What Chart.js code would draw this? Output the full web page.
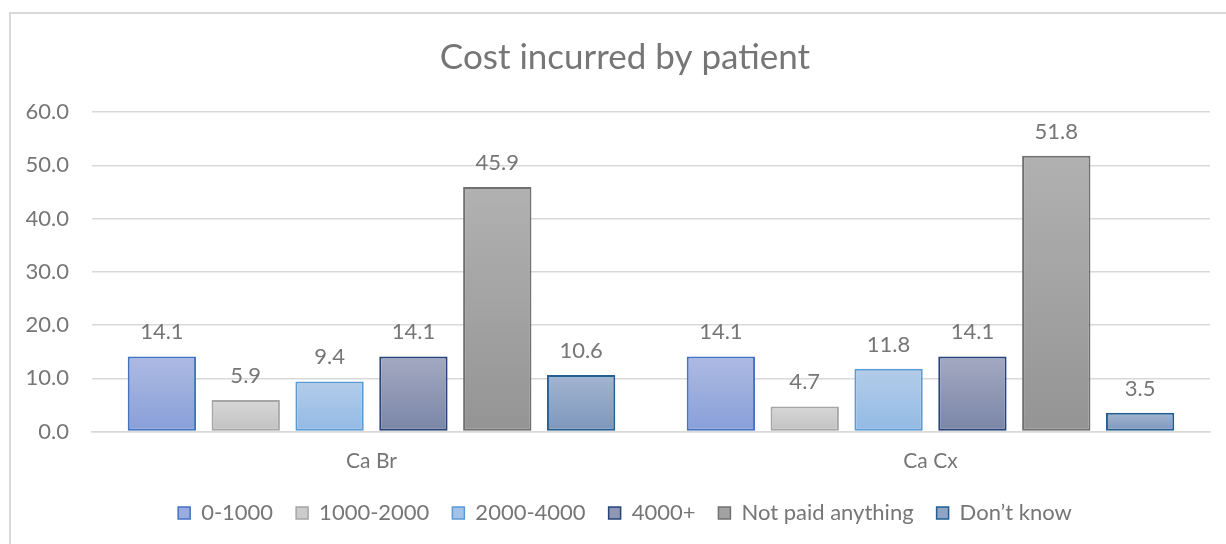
<!DOCTYPE html>
<html>
<head>
<meta charset="utf-8">
<title>Cost incurred by patient</title>
<script src="https://cdn.jsdelivr.net/npm/chart.js@4/dist/chart.umd.min.js"></script>
<style>
    html, body { margin: 0; padding: 0; background: #ffffff; overflow: hidden; }
    #marco { position: absolute; left: 9px; top: 12px; width: 1400px; height: 700px; border: 2px solid #d9d9d9; pointer-events: none; }
    #contenedor { position: absolute; left: 0; top: 0; width: 1226px; height: 544px; }
</style>
</head>
<body>
<div id="contenedor"><canvas id="costChart" width="1226" height="544"></canvas></div>
<div id="marco"></div>

<script>
// datos
var categorias = ['Ca Br', 'Ca Cx'];
var rangos = ['0-1000', '1000-2000', '2000-4000', '4000+', 'Not paid anything', 'Don\u2019t know'];

var serie0a1000 = [14.1, 14.1];
var serie1000a2000 = [5.9, 4.7];
var serie2000a4000 = [9.4, 11.8];
var serie4000mas = [14.1, 14.1];
var serieNoPago = [45.9, 51.8];
var serieNoSabe = [10.6, 3.5];

var ticksY = [0, 10, 20, 30, 40, 50, 60];

var colorArriba = ['#adbae2', '#d7d7d7', '#b3cce9', '#a4a9c1', '#b1b1b1', '#a3b5d1'];
var colorAbajo = ['#889fd9', '#c1c1c1', '#92bae5', '#7a85a7', '#949494', '#7c96bb'];
var colorMedio = ['#9aacdd', '#cbcbcb', '#a2c3e7', '#8f97b4', '#a2a2a2', '#8fa5c6'];
var colorBorde = ['#4472c4', '#a5a5a5', '#5b9bd5', '#264478', '#707070', '#255e91'];

var textoGris = '#767676';
var fuente = 'Lato, "Open Sans", sans-serif';

function degradado(i)
{
    return function(ctx)
    {
        var chart = ctx.chart;
        if (!chart.chartArea || ctx.raw === undefined)
        {
            return colorMedio[i];
        }
        var escala = chart.scales.y;
        var arriba = escala.getPixelForValue(ctx.raw);
        var abajo = escala.getPixelForValue(0);
        if (abajo - arriba < 1)
        {
            return colorMedio[i];
        }
        var g = chart.ctx.createLinearGradient(0, arriba, 0, abajo);
        g.addColorStop(0, colorArriba[i]);
        g.addColorStop(1, colorAbajo[i]);
        return g;
    };
}

function crearSerie(i, datos)
{
    return {
        label: rangos[i],
        data: datos,
        backgroundColor: degradado(i),
        borderColor: colorBorde[i],
        borderWidth: 2,
        borderSkipped: false,
        categoryPercentage: 0.9,
        barPercentage: 0.815
    };
}

// etiquetas de valor encima de cada barra
const etiquetasValor = {
    id: 'etiquetasValor',
    afterDatasetsDraw: function(chart)
    {
        const ctx = chart.ctx;
        ctx.save();
        ctx.font = '22px ' + fuente;
        ctx.fillStyle = textoGris;
        ctx.textAlign = 'center';
        ctx.textBaseline = 'alphabetic';
        chart.data.datasets.forEach(function(ds, i)
        {
            const meta = chart.getDatasetMeta(i);
            meta.data.forEach(function(barra, j)
            {
                ctx.fillText(ds.data[j].toFixed(1), barra.x, barra.y - 17);
            });
        });
        ctx.restore();
    }
};

const lienzo = document.getElementById('costChart').getContext('2d');

let chart = new Chart(lienzo, {
    type: 'bar',
    data: {
        labels: categorias,
        datasets: [
            crearSerie(0, serie0a1000),
            crearSerie(1, serie1000a2000),
            crearSerie(2, serie2000a4000),
            crearSerie(3, serie4000mas),
            crearSerie(4, serieNoPago),
            crearSerie(5, serieNoSabe)
        ]
    },
    options: {
        responsive: false,
        animation: false,
        layout: {
            padding: { left: 26, right: 2, top: 0, bottom: 10 }
        },
        plugins: {
            title: {
                display: true,
                text: 'Cost incurred by patient',
                color: textoGris,
                font: { family: fuente, size: 35, weight: 'normal' },
                padding: { top: 37, bottom: 33 }
            },
            legend: {
                position: 'bottom',
                labels: {
                    boxWidth: 12,
                    boxHeight: 12,
                    padding: 23,
                    color: textoGris,
                    font: { family: fuente, size: 22 },
                    generateLabels: function(chart)
                    {
                        return chart.data.datasets.map(function(ds, i)
                        {
                            return {
                                text: ds.label,
                                fillStyle: colorMedio[i],
                                strokeStyle: colorBorde[i],
                                lineWidth: 1.5,
                                fontColor: textoGris,
                                hidden: false,
                                datasetIndex: i
                            };
                        });
                    }
                }
            },
            tooltip: { enabled: false }
        },
        scales: {
            x: {
                grid: { display: false, drawTicks: false },
                border: { display: true, color: '#d9d9d9', width: 1.5 },
                ticks: {
                    color: textoGris,
                    font: { family: fuente, size: 21 },
                    padding: 17
                },
                afterFit: function(scale)
                {
                    scale.height = 47.5;
                }
            },
            y: {
                min: 0,
                max: 60,
                grid: { color: '#d9d9d9', lineWidth: 1.5, drawTicks: false },
                border: { display: false },
                afterBuildTicks: function(scale)
                {
                    scale.ticks = ticksY.map(function(v) { return { value: v }; });
                },
                ticks: {
                    color: textoGris,
                    font: { family: fuente, size: 22 },
                    padding: 23,
                    callback: function(v) { return Number(v).toFixed(1); }
                },
                afterFit: function(scale)
                {
                    scale.width = 66;
                }
            },
            derecha: {
                type: 'linear',
                position: 'right',
                display: true,
                grid: { display: false, drawTicks: false },
                border: { display: false },
                ticks: { display: false },
                afterFit: function(scale)
                {
                    scale.width = 14;
                }
            }
        }
    },
    plugins: [etiquetasValor]
});
</script>
</body>
</html>
